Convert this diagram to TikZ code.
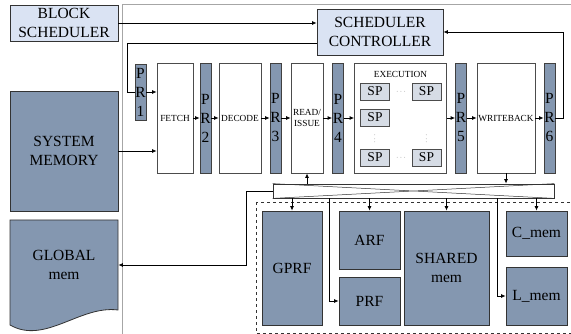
\documentclass[tikz,border=0pt]{standalone}
\usepackage{fontspec}
\setmainfont{Liberation Serif}
\usetikzlibrary{arrows.meta}
\definecolor{memblue}{HTML}{8497B0}
\definecolor{ctlblue}{HTML}{DAE3F3}
\definecolor{spblue}{HTML}{D6DCE5}
\begin{document}
\begin{tikzpicture}[x=1pt,y=-1pt,line width=0.8pt,>={Latex[length=4.5pt,width=4pt]},
  bigtext/.style={font=\fontsize{15.5}{18.6}\selectfont},
  smalltext/.style={font=\fontsize{9.3}{11.5}\selectfont},
  stagebox/.style={draw=black!70,fill=white,inner sep=0pt,minimum height=110pt,align=center,smalltext},
  pregbox/.style={draw=black!75,fill=memblue,inner sep=0pt,minimum width=11pt,minimum height=110pt,align=center,font=\fontsize{15.5}{19}\selectfont},
  membox/.style={draw=black!80,fill=memblue,inner sep=0pt,align=center,bigtext},
  ctlbox/.style={draw=black!80,fill=ctlblue,inner sep=0pt,align=center,bigtext},
  spbox/.style={draw=black!70,fill=spblue,inner sep=0pt,minimum width=29pt,minimum height=17pt,font=\fontsize{13.5}{16}\selectfont},
  dotmark/.style={black!60,inner sep=0pt,font=\scriptsize}]
\useasboundingbox (0,0) rectangle (571,334);
\draw[gray!70,line width=0.6pt,double=white,double distance=0.8pt] (123,5.5) rectangle (600,360);
\node[ctlbox,minimum width=108pt,minimum height=36pt] (bsched) at (64,23) {BLOCK\\SCHEDULER};
\node[ctlbox,minimum width=126pt,minimum height=46pt] (ctrl) at (380,32) {SCHEDULER\\CONTROLLER};
\node[membox,minimum width=108pt,minimum height=120pt] (sysmem) at (64,151) {SYSTEM\\MEMORY};
\draw[draw=black!80,fill=memblue] (10,220) -- (118,220) -- (118,310) .. controls (80,305) and (45,345) .. (10,325) -- cycle;
\node[inner sep=0pt,minimum width=108pt,minimum height=90pt,align=center,bigtext] (glob) at (64,265) {GLOBAL\\mem};
\node[pregbox,minimum height=56pt] (pr1) at (140.5,92) {P\\R\\1};
\node[stagebox,minimum width=36pt] (fetch) at (175,118) {FETCH};
\node[pregbox] (pr2) at (205.5,118) {P\\R\\2};
\node[stagebox,minimum width=42pt] (decode) at (240,118) {DECODE};
\node[pregbox] (pr3) at (275.5,118) {P\\R\\3};
\node[stagebox,minimum width=32pt] (read) at (307,118) {READ/\\ISSUE};
\node[pregbox] (pr4) at (338,118) {P\\R\\4};
\node[stagebox,minimum width=92pt] (exec) at (400.5,118) {};
\node[pregbox] (pr5) at (461,118) {P\\R\\5};
\node[stagebox,minimum width=58pt] (wb) at (506,118) {WRITEBACK};
\node[pregbox] (pr6) at (549.5,118) {P\\R\\6};
\node[smalltext] (extitle) at (400.5,74) {EXECUTION};
\node[spbox] (sp11) at (375,91.5) {SP};
\node[spbox] (sp12) at (426.5,91.5) {SP};
\node[spbox] (sp21) at (375,117.5) {SP};
\node[spbox] (sp31) at (375,157.5) {SP};
\node[spbox] (sp32) at (426.5,157.5) {SP};
\node[dotmark] (hdot1) at (401,91.5) {$\cdots$};
\node[dotmark] (hdot2) at (401,157.5) {$\cdots$};
\node[dotmark,rotate=90] (vdot1) at (375,139) {$\cdots$};
\node[dotmark,rotate=90] (vdot2) at (426.5,139) {$\cdots$};
\node[draw=black!80,fill=white,inner sep=0pt,minimum width=281pt,minimum height=14pt] (xbar) at (413.5,191) {};
\draw[black!80,line width=0.5pt] (xbar.north west) -- (xbar.south east) (xbar.south west) -- (xbar.north east);
\draw[dashed,black!80] (256,202) rectangle (600,333);
\node[membox,minimum width=60pt,minimum height=114pt] (gprf) at (292,268) {GPRF};
\node[membox,minimum width=61pt,minimum height=58pt] (arf) at (369.5,240) {ARF};
\node[membox,minimum width=61pt,minimum height=48pt] (prf) at (369.5,301) {PRF};
\node[membox,minimum width=85pt,minimum height=114pt] (shared) at (446.5,268) {SHARED\\mem};
\node[membox,minimum width=61pt,minimum height=45pt] (cmem) at (536.5,233.5) {C\_mem};
\node[membox,minimum width=61pt,minimum height=58pt] (lmem) at (536.5,296) {L\_mem};
\coordinate (pr1w) at ([xshift=-7pt]pr1.west);
\coordinate (prfin) at ([xshift=-9pt]prf.west);
\coordinate (lmemin) at ([xshift=-8pt]lmem.west);
\draw[->] (bsched.east) -- (bsched.east -| ctrl.west);
\draw ([yshift=-11pt]ctrl.west) -| (pr1w) -- (pr1.west);
\draw[->] (pr1.east) -- (pr1.east -| fetch.west);
\draw[->] (pr6.east) -- ++(8,0) |- (ctrl.east);
\draw[->] (sysmem.east) -- (sysmem.east -| fetch.west);
\foreach \a/\b in {fetch/pr2,pr2/decode,decode/pr3,pr3/read,read/pr4,pr4/exec,exec/pr5,pr5/wb,wb/pr6}
  \draw[->] (\a) -- (\b);
\draw[->] (read.south |- xbar.north) -- (read.south);
\draw[->] (wb.south) -- (wb.south |- xbar.north);
\foreach \m in {gprf,arf,shared,cmem}
  \draw[->] (\m.north |- xbar.south) -- (\m.north);
\draw[->] (prfin |- xbar.south) |- (prf.west);
\draw[->] (lmemin |- xbar.south) |- (lmem.west);
\draw[->] (xbar.west) -- ++(-26,0) |- (glob.east);
\end{tikzpicture}
\end{document}
